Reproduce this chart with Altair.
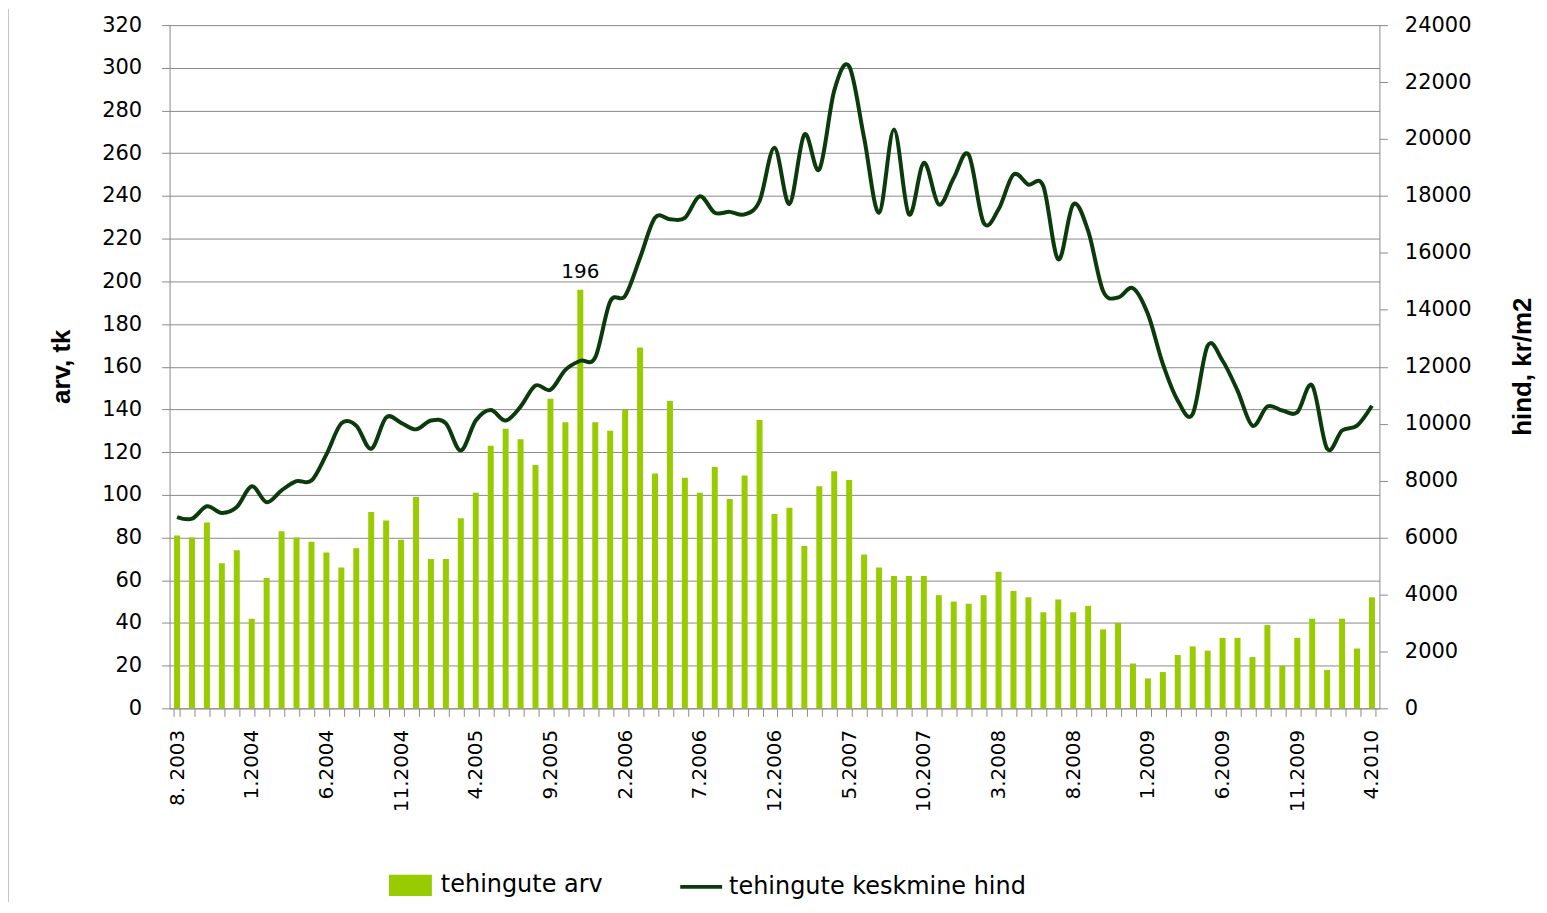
import altair as alt
import pandas as pd

# categories (months 8.2003 ... 4.2010)
months = ["8. 2003"] + [f"{m}.2003" for m in range(9, 13)] + \
    [f"{m}.{y}" for y in range(2004, 2010) for m in range(1, 13)] + \
    [f"{m}.2010" for m in range(1, 5)]

shown_labels = ["8. 2003", "1.2004", "6.2004", "11.2004", "4.2005", "9.2005",
                "2.2006", "7.2006", "12.2006", "5.2007", "10.2007", "3.2008",
                "8.2008", "1.2009", "6.2009", "11.2009", "4.2010"]

# tehingute arv (bars, left axis)
arv = [81, 80, 87, 68, 74, 42, 61, 83, 80, 78, 73, 66, 75, 92, 88, 79, 99, 70, 70, 89, 101,
       123, 131, 126, 114, 145, 134, 196, 134, 130, 140, 169, 110, 144, 108, 101, 113, 98, 109, 135, 91,
       94, 76, 104, 111, 107, 72, 66, 62, 62, 62, 53, 50, 49, 53, 64, 55, 52, 45, 51, 45,
       48, 37, 40, 21, 14, 17, 25, 29, 27, 33, 33, 24, 39, 20, 33, 42, 18, 42, 28, 52]

# tehingute keskmine hind (line, right axis)
hind = [6720, 6660, 7100, 6860, 7070, 7800, 7240, 7660, 7980, 8000,
        8920, 10010, 9930, 9120, 10220, 10030, 9800, 10110, 10010, 9060,
        10110, 10480, 10110, 10600, 11340, 11190, 11890, 12210, 12330, 14290,
        14490, 15830, 17230, 17180, 17230, 17990, 17410, 17440, 17350, 17820,
        19690, 17720, 20160, 18930, 21700, 22550, 20040, 17410, 20330, 17350,
        19160, 17700, 18630, 19450, 17060, 17530, 18750, 18400, 18340, 15770,
        17700, 16770, 14660, 14430, 14760, 13850, 12100, 10810, 10340, 12740,
        12210, 11160, 9930, 10600, 10460, 10400, 11340, 9120, 9760, 9930, 10630]

labelled_months = ["11.2005"]

series_bar = "tehingute arv"
series_line = "tehingute keskmine hind"

df = pd.DataFrame({"month": months, "arv": arv, "hind": hind})
df["s_bar"] = series_bar
df["s_line"] = series_line

GREEN = "#99CC00"
DARK = "#0B3B0B"
GRAY = "#8A8A8A"
NUMFONT = "DejaVu Sans"

label_list = "[" + ",".join(f"'{s}'" for s in shown_labels) + "]"

x_enc = alt.X(
    "month:N", sort=months,
    scale=alt.Scale(paddingInner=0.6, paddingOuter=0.3),
    axis=alt.Axis(
        title=None, labelAngle=270, tickBand="extent", tickSize=8,
        labelPadding=13, labelFont=NUMFONT, labelFontSize=20, labelColor="black",
        labelOverlap=False, labelExpr=f"indexof({label_list}, datum.value) >= 0 ? datum.value : ''",
        domainColor=GRAY, tickColor=GRAY, grid=False,
    ),
)

base = alt.Chart(df)

y_left = alt.Y(
    "arv:Q",
    scale=alt.Scale(domain=[0, 320], nice=False),
    axis=alt.Axis(
        title="arv, tk", values=list(range(0, 321, 20)), grid=True, gridColor=GRAY,
        gridWidth=1, domainColor=GRAY, tickColor=GRAY, tickSize=8, labelPadding=20,
        labelFont=NUMFONT, labelFontSize=21, labelColor="black", format="d",
        titleFont="Liberation Sans", titleFontSize=26, titleFontWeight="bold",
        titleColor="black", titleAngle=270, titleX=-108, titleY=342,
        titleAlign="center", titleBaseline="middle",
    ),
)

bars = base.mark_bar().encode(
    x=x_enc,
    y=y_left,
    color=alt.Color(
        "s_bar:N",
        scale=alt.Scale(domain=[series_bar], range=[GREEN]),
        legend=alt.Legend(
            title=None, orient="none", legendX=220, legendY=841, padding=0,
            symbolType="M-1,-0.5L1,-0.5L1,0.5L-1,0.5Z", symbolSize=1849,
            symbolStrokeWidth=0, labelFont=NUMFONT, labelFontSize=24,
            labelColor="black", labelOffset=9, labelLimit=0,
        ),
    ),
)

txt = base.mark_text(
    baseline="alphabetic", dy=-12, font=NUMFONT, fontSize=20, color="black"
).encode(
    x=x_enc,
    y=alt.Y("arv:Q"),
    text=alt.Text("arv:Q"),
).transform_filter(
    alt.FieldOneOfPredicate(field="month", oneOf=labelled_months)
)

line = base.mark_line(interpolate="cardinal", strokeWidth=4).encode(
    x=x_enc,
    y=alt.Y(
        "hind:Q",
        scale=alt.Scale(domain=[0, 24000], nice=False),
        axis=alt.Axis(
            title="hind, kr/m2", orient="right", values=list(range(0, 24001, 2000)),
            grid=False, domainColor=GRAY, tickColor=GRAY, tickSize=8, labelPadding=17,
            labelFont=NUMFONT, labelFontSize=21, labelColor="black", format="d",
            titleFont="Liberation Sans", titleFontSize=26, titleFontWeight="bold",
            titleColor="black", titleAngle=270, titleX=143, titleY=342,
            titleAlign="center", titleBaseline="middle",
        ),
    ),
    stroke=alt.Stroke(
        "s_line:N",
        scale=alt.Scale(domain=[series_line], range=[DARK]),
        legend=alt.Legend(
            title=None, orient="none", legendX=510, legendY=841, padding=0,
            symbolType="stroke", symbolSize=1764, symbolStrokeWidth=4,
            labelFont=NUMFONT, labelFontSize=24, labelColor="black", labelOffset=5,
            labelLimit=0,
        ),
    ),
)

border = alt.Chart(alt.Data(values=[{"a": 1}])).mark_rule(
    color=GRAY, strokeWidth=1
).encode(x=alt.value(-162), y=alt.value(-16), y2=alt.value(880))

chart = alt.layer(
    alt.layer(bars, txt),
    line,
    border,
).resolve_scale(
    y="independent"
).properties(
    width=1213, height=685,
    padding={"left": 162, "top": 16, "right": 160, "bottom": 193},
    autosize=alt.AutoSizeParams(type="none"),
).configure_view(stroke=None)

chart.save("out.html", embed_options={"renderer": "svg", "actions": False})
